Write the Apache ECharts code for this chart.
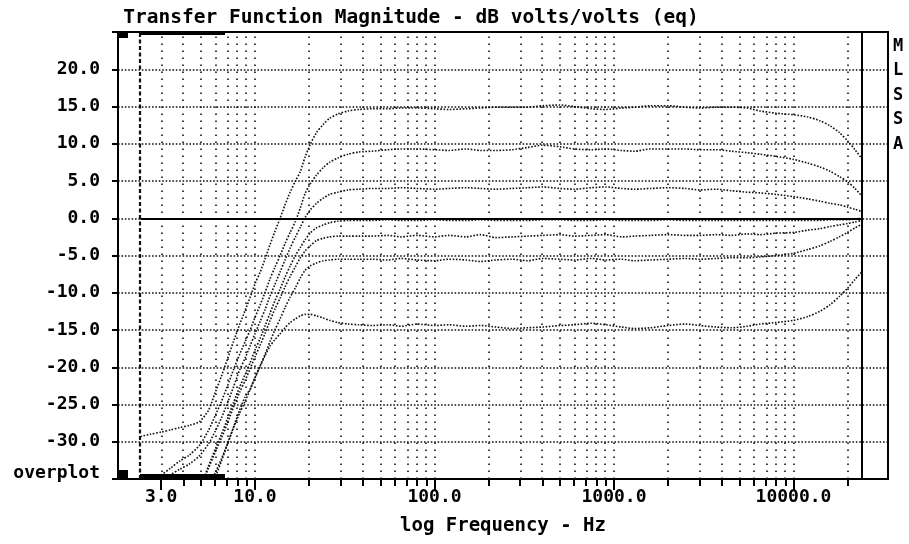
<!DOCTYPE html>
<html>
<head>
<meta charset="utf-8">
<script src="https://cdn.jsdelivr.net/npm/echarts@6/dist/echarts.min.js"></script>
<style>
html,body{margin:0;padding:0;background:#fff;}
#chart{width:909px;height:544px;}
</style>
</head>
<body>
<div id="chart"></div>
<script>
// ---------- data ----------
const TITLE = 'Transfer Function Magnitude - dB volts/volts (eq)';
const X_NAME = 'log Frequency - Hz';
const SIDE_TEXT = ['M', 'L', 'S', 'S', 'A'];
const X_MIN_HZ = 1.725;
const X_MAX_HZ = 33600;
const Y_MIN = -35;
const Y_MAX = 25;
const Y_STEP = 5;
const MAJOR_TICKS_HZ = [3, 10, 100, 1000, 10000];
const MINOR_TICKS_HZ = [4, 5, 6, 7, 8, 9, 20, 30, 40, 50, 60, 70, 80, 90,
  200, 300, 400, 500, 600, 700, 800, 900, 2000, 3000, 4000, 5000, 6000, 7000, 8000, 9000, 20000];
const GRID_HZ = [3, 4, 5, 6, 7, 8, 9, 10, 20, 30, 40, 50, 60, 70, 80, 90, 100,
  200, 300, 400, 500, 600, 700, 800, 900, 1000, 2000, 3000, 4000, 5000, 6000, 7000, 8000, 9000, 10000, 20000];

const FREQ_HZ = [2.3, 2.6, 3.0, 3.4, 3.8, 4.3, 4.9, 5.5, 6.0, 6.5, 7.0, 7.6, 8.2, 8.8, 9.4, 10,
  10.7, 11.4, 12.1, 12.9, 13.8, 14.7, 15.7, 16.8, 17.9, 19, 20.3, 22, 24, 26, 29, 33, 38,
  45, 55, 65, 80, 100, 120, 150, 180, 220, 270, 330, 400, 500, 600, 750, 900, 1100, 1300,
  1600, 2000, 2500, 3000, 3700, 4500, 5500, 6500, 8000, 10000, 12000, 14000, 16000, 18000,
  20000, 22000, 24000];

const CURVE_A = [-29.3, -29.0, -28.7, -28.4, -28.1, -27.8, -27.3, -25.8, -23.4, -21.2, -19.0, -16.5,
  -14.3, -12.4, -10.6, -8.8, -7.2, -5.4, -3.6, -1.8, 0.0, 1.8, 3.5, 5.0, 6.3, 8.2, 9.9, 11.5,
  12.6, 13.4, 14.0, 14.4, 14.6,
  14.7, 14.7, 14.8, 14.8, 14.7, 14.6, 14.7, 14.8, 14.9, 14.9, 14.9, 15.1, 15.2, 15.0, 14.7, 14.6,
  14.8, 14.9, 15.1, 15.1, 14.9, 14.8, 14.9, 14.9, 14.8, 14.4, 14.1, 13.9, 13.6, 13.1, 12.4, 11.5,
  10.4, 9.2, 8.0];
const CURVE_B = [-36.5, -35.6, -34.5, -33.5, -32.6, -31.8, -30.5, -28.5, -26.5, -24.6, -22.6, -20.3,
  -18.3, -16.6, -15.0, -13.3, -11.6, -9.9, -8.2, -6.6, -5.0, -3.4, -1.9, -0.4, 1.4, 3.3, 4.6, 5.8,
  6.8, 7.5, 8.1, 8.6, 8.9,
  9.0, 9.2, 9.3, 9.3, 9.2, 9.1, 9.3, 9.1, 9.1, 9.2, 9.5, 9.8, 9.6, 9.3, 9.2, 9.3, 9.1, 9.0, 9.3,
  9.3, 9.3, 9.2, 9.2, 9.0, 8.8, 8.6, 8.3, 7.9, 7.4, 6.9, 6.3, 5.6, 4.9, 4.0, 3.0];
const CURVE_C = [null, -36.0, -35.2, -34.4, -33.7, -33.0, -31.9, -30.3, -28.6, -26.8, -24.9, -22.6,
  -20.4, -18.8, -17.1, -15.5, -13.8, -12.2, -10.5, -8.9, -7.2, -5.6, -4.0, -2.5, -1.2, 0.1, 1.1,
  2.0, 2.7, 3.2, 3.5, 3.8, 3.9,
  4.0, 4.0, 4.1, 4.0, 3.9, 4.0, 4.1, 4.0, 3.9, 4.0, 4.1, 4.2, 4.0, 3.9, 4.1, 4.2, 4.0, 3.9, 4.0,
  4.1, 4.0, 3.8, 3.9, 3.7, 3.5, 3.4, 3.2, 2.9, 2.6, 2.3, 2.0, 1.8, 1.5, 1.2, 0.9];
const CURVE_D = [null, null, null, null, null, null, -36.5, -33.3, -31.0, -29.0, -27.0, -24.7,
  -22.7, -21.0, -19.4, -17.7, -16.1, -14.4, -12.8, -11.1, -9.5, -7.9, -6.4, -5.0, -3.9, -2.9,
  -2.0, -1.3, -0.9, -0.6, -0.4, -0.3, -0.3,
  -0.3, -0.2, -0.3, -0.3, -0.2, -0.3, -0.3, -0.2, -0.3, -0.3, -0.3, -0.2, -0.2, -0.3, -0.3, -0.2,
  -0.3, -0.3, -0.3, -0.2, -0.3, -0.3, -0.3, -0.3, -0.3, -0.3, -0.3, -0.3, -0.3, -0.3, -0.2, -0.2,
  -0.2, -0.1, 0.0];
const CURVE_E = [null, null, null, null, null, null, -36.5, -33.6, -31.4, -29.5, -27.6, -25.3,
  -23.4, -21.8, -20.2, -18.6, -17.0, -15.4, -13.8, -12.2, -10.7, -9.2, -7.8, -6.5, -5.3, -4.4,
  -3.7, -3.0, -2.7, -2.5, -2.4, -2.4, -2.4,
  -2.4, -2.3, -2.5, -2.3, -2.5, -2.3, -2.5, -2.2, -2.6, -2.5, -2.4, -2.3, -2.2, -2.4, -2.3, -2.2,
  -2.5, -2.4, -2.3, -2.2, -2.3, -2.3, -2.2, -2.3, -2.1, -2.2, -2.0, -1.9, -1.6, -1.4, -1.1, -0.9,
  -0.7, -0.5, -0.3];
const CURVE_F = [null, null, null, null, null, null, null, -36.4, -34.2, -32.3, -30.4, -28.1,
  -26.2, -24.6, -23.0, -21.4, -19.8, -18.2, -16.6, -15.0, -13.5, -12.0, -10.6, -9.3, -8.0, -7.0,
  -6.4, -6.0, -5.7, -5.6, -5.5, -5.5, -5.5,
  -5.5, -5.6, -5.4, -5.6, -5.7, -5.5, -5.6, -5.8, -5.6, -5.5, -5.7, -5.4, -5.5, -5.6, -5.4, -5.6,
  -5.5, -5.7, -5.6, -5.5, -5.4, -5.5, -5.4, -5.3, -5.3, -5.2, -5.0, -4.7, -4.2, -3.7, -3.1, -2.5,
  -1.9, -1.3, -0.8];
const CURVE_G = [null, null, null, null, null, null, null, -37.0, -34.8, -32.6, -30.4, -28.0,
  -25.8, -24.0, -22.9, -21.4, -19.8, -18.4, -17.2, -16.3, -15.5, -14.7, -14.0, -13.5, -13.1, -12.9,
  -12.9, -13.1, -13.4, -13.7, -14.0, -14.2, -14.3,
  -14.4, -14.3, -14.5, -14.2, -14.4, -14.3, -14.5, -14.4, -14.6, -14.8, -14.7, -14.6, -14.4, -14.3,
  -14.1, -14.3, -14.6, -14.8, -14.7, -14.4, -14.2, -14.4, -14.6, -14.7, -14.5, -14.2, -14.0, -13.7,
  -13.2, -12.5, -11.6, -10.5, -9.4, -8.2, -7.2];
const CURVES = [CURVE_A, CURVE_B, CURVE_C, CURVE_D, CURVE_E, CURVE_F, CURVE_G];

// ---------- chart ----------
const FONT = "'DejaVu Sans Mono', monospace";
const lg = Math.log10;
const chart = echarts.init(document.getElementById('chart'), null, {renderer: 'canvas'});

const curveSeries = CURVES.map((c, k) => ({
  type: 'line',
  name: 'c' + k,
  data: FREQ_HZ.map((f, i) => [lg(f), c[i]]),
  showSymbol: false,
  symbol: 'none',
  smooth: 0.25,
  connectNulls: false,
  clip: true,
  silent: true,
  z: 3,
  lineStyle: {color: '#111', width: 1.6, type: [1.6, 1.6]}
}));

const gridSeries = {
  type: 'line',
  data: [[lg(FREQ_HZ[0]), Y_MIN]],
  showSymbol: false,
  symbol: 'none',
  silent: true,
  z: 1,
  lineStyle: {opacity: 0},
  markLine: {
    silent: true,
    symbol: ['none', 'none'],
    label: {show: false},
    animation: false,
    lineStyle: {color: '#111', width: 1.6, type: [1.6, 5.4]},
    data: GRID_HZ.map(v => ({xAxis: lg(v)}))
  }
};

const frameSeries = {
  type: 'line',
  data: [[lg(FREQ_HZ[0]), Y_MIN]],
  showSymbol: false,
  symbol: 'none',
  silent: true,
  z: 4,
  lineStyle: {opacity: 0},
  markLine: {
    silent: true,
    symbol: ['none', 'none'],
    label: {show: false},
    animation: false,
    lineStyle: {color: '#000', width: 2, type: 'solid'},
    data: [
      {xAxis: lg(FREQ_HZ[0]), lineStyle: {type: [4, 2.5], width: 2.2, color: '#111'}},
      {xAxis: lg(FREQ_HZ[FREQ_HZ.length - 1]), lineStyle: {type: 'solid', width: 2, color: '#000'}},
      [{coord: [lg(FREQ_HZ[0]), 0]}, {coord: [lg(FREQ_HZ[FREQ_HZ.length - 1]), 0]}]
    ]
  }
};

const labelFont = {fontFamily: FONT, fontSize: 18, fontWeight: 'bold', color: '#000'};

const option = {
  animation: false,
  backgroundColor: '#fff',
  grid: {left: 118, right: 21, top: 32, bottom: 65, show: true, borderColor: '#000', borderWidth: 2, backgroundColor: 'transparent'},
  xAxis: [
    {
      type: 'value',
      min: lg(X_MIN_HZ), max: lg(X_MAX_HZ),
      position: 'bottom',
      axisLine: {show: false, onZero: false},
      splitLine: {show: false},
      axisTick: {show: true, customValues: MAJOR_TICKS_HZ.map(lg), length: 11, lineStyle: {color: '#000', width: 2}},
      axisLabel: Object.assign({customValues: MAJOR_TICKS_HZ.map(lg), margin: 9,
        formatter: v => Math.pow(10, v).toFixed(1)}, labelFont),
      name: X_NAME,
      nameLocation: 'middle',
      nameGap: 38,
      nameTextStyle: {fontFamily: FONT, fontSize: 19, fontWeight: 'bold', color: '#000'}
    },
    {
      type: 'value',
      min: lg(X_MIN_HZ), max: lg(X_MAX_HZ),
      position: 'bottom',
      axisLine: {show: false, onZero: false},
      splitLine: {show: false},
      axisTick: {show: true, customValues: MINOR_TICKS_HZ.map(lg), length: 7, lineStyle: {color: '#000', width: 2}},
      axisLabel: {show: false}
    }
  ],
  yAxis: {
    type: 'value',
    min: Y_MIN, max: Y_MAX, interval: Y_STEP,
    axisLine: {show: true, onZero: false, lineStyle: {color: '#000', width: 2}},
    axisTick: {show: true, length: 6, lineStyle: {color: '#000', width: 2}},
    axisLabel: Object.assign({
      margin: 18,
      formatter: v => v === Y_MIN ? '{ov|overplot}' : (v === Y_MAX ? '' : v.toFixed(1)),
      rich: {ov: {fontFamily: FONT, fontSize: 18, fontWeight: 'bold', color: '#000', padding: [0, 0, 12, 0]}}
    }, labelFont),
    splitLine: {show: true, showMinLine: false, showMaxLine: false,
      lineStyle: {color: '#111', width: 1.6, type: [1.6, 1.8]}}
  },
  series: [gridSeries].concat(curveSeries).concat([frameSeries]),
  graphic: [
    {type: 'text', x: 411, y: 18, z: 10, style: {text: TITLE, fontFamily: FONT, fontSize: 19.5, fontWeight: 'bold', fill: '#000', align: 'center', verticalAlign: 'middle'}},
    {type: 'text', x: 898, y: 34, z: 10, style: {text: SIDE_TEXT.join('\n'), fontFamily: FONT, fontSize: 17, fontWeight: 'bold', lineHeight: 24.5, fill: '#000', align: 'center', verticalAlign: 'top'}},
    {type: 'rect', z: 10, shape: {x: 118, y: 32, width: 10, height: 6}, style: {fill: '#000'}},
    {type: 'rect', z: 10, shape: {x: 140, y: 31, width: 85, height: 4}, style: {fill: '#000'}},
    {type: 'rect', z: 10, shape: {x: 118, y: 470, width: 10, height: 9}, style: {fill: '#000'}},
    {type: 'rect', z: 10, shape: {x: 140, y: 474, width: 85, height: 6}, style: {fill: '#000'}}
  ]
};
chart.setOption(option);
</script>
</body>
</html>
